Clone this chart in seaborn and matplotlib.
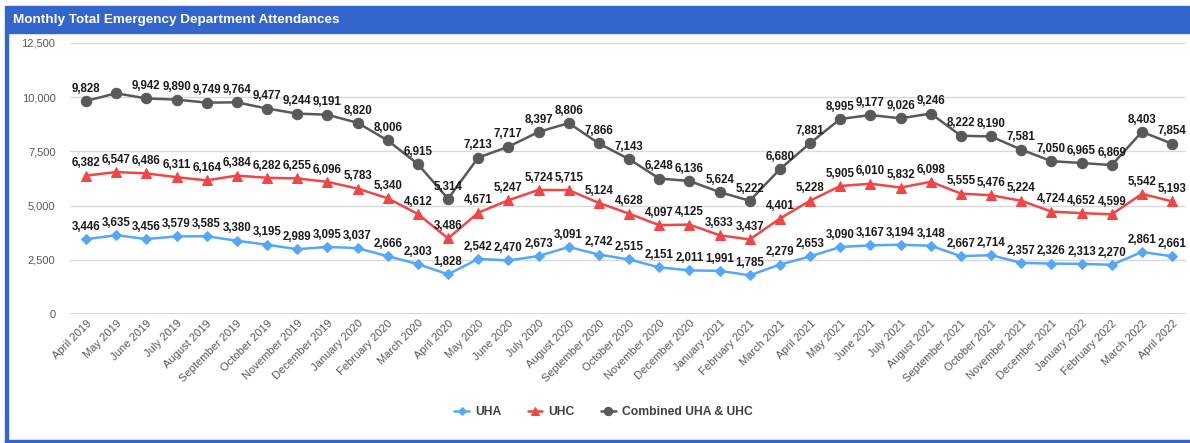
import matplotlib
matplotlib.use("Agg")
import matplotlib.pyplot as plt
import seaborn as sns
import pandas as pd
from matplotlib.patches import Rectangle

# dati
mesi = [
    "April 2019", "May 2019", "June 2019", "July 2019", "August 2019", "September 2019",
    "October 2019", "November 2019", "December 2019", "January 2020", "February 2020",
    "March 2020", "April 2020", "May 2020", "June 2020", "July 2020", "August 2020",
    "September 2020", "October 2020", "November 2020", "December 2020", "January 2021",
    "February 2021", "March 2021", "April 2021", "May 2021", "June 2021", "July 2021",
    "August 2021", "September 2021", "October 2021", "November 2021", "December 2021",
    "January 2022", "February 2022", "March 2022", "April 2022",
]
uha = [3446, 3635, 3456, 3579, 3585, 3380, 3195, 2989, 3095, 3037, 2666, 2303, 1828,
       2542, 2470, 2673, 3091, 2742, 2515, 2151, 2011, 1991, 1785, 2279, 2653, 3090,
       3167, 3194, 3148, 2667, 2714, 2357, 2326, 2313, 2270, 2861, 2661]
uhc = [6382, 6547, 6486, 6311, 6164, 6384, 6282, 6255, 6096, 5783, 5340, 4612, 3486,
       4671, 5247, 5724, 5715, 5124, 4628, 4097, 4125, 3633, 3437, 4401, 5228, 5905,
       6010, 5832, 6098, 5555, 5476, 5224, 4724, 4652, 4599, 5542, 5193]
combinato = [9828, 10182, 9942, 9890, 9749, 9764, 9477, 9244, 9191, 8820, 8006, 6915,
             5314, 7213, 7717, 8397, 8806, 7866, 7143, 6248, 6136, 5624, 5222, 6680,
             7881, 8995, 9177, 9026, 9246, 8222, 8190, 7581, 7050, 6965, 6869, 8403, 7854]
# etichette nascoste nell'originale (sovrapposte)
nascosti_comb = {"May 2019"}

sns.set_theme(style="white")
plt.rcParams["font.family"] = ["Liberation Sans", "DejaVu Sans"]

fig = plt.figure(figsize=(11.9, 4.43), dpi=100)
ax = fig.add_axes([70 / 1190, 1 - 314 / 443, 1116 / 1190, 271 / 443])

blu_cornice = "#3366cc"
# cornice blu + barra del titolo
fig.patches.append(Rectangle((5 / 1190, 1 - 33 / 443), 1185 / 1190, 27 / 443,
                             transform=fig.transFigure, color=blu_cornice, zorder=0))
fig.patches.append(Rectangle((5 / 1190, 0), 3 / 1190, 1 - 33 / 443,
                             transform=fig.transFigure, color=blu_cornice, zorder=0))
fig.patches.append(Rectangle((5 / 1190, 0), 1185 / 1190, 3 / 443,
                             transform=fig.transFigure, color=blu_cornice, zorder=0))
fig.text(13 / 1190, 1 - 19.5 / 443, "Monthly Total Emergency Department Attendances",
         color="white", fontsize=9.7, fontweight="bold", va="center", ha="left")

serie = [
    ("UHA", uha, "#55a8f8", "D", 5),
    ("UHC", uhc, "#f04646", "^", 6.5),
    ("Combined UHA & UHC", combinato, "#595959", "o", 7.5),
]

for nome, valori, colore, marker, msize in serie:
    df = pd.DataFrame({"mese": mesi, "valore": valori})
    sns.lineplot(data=df, x="mese", y="valore", ax=ax, color=colore, linewidth=1.8,
                 marker=marker, markersize=msize, markeredgecolor=colore, label=nome,
                 sort=False)
    for m, v in zip(mesi, valori):
        if nome.startswith("Combined") and m in nascosti_comb:
            continue
        ax.annotate(f"{v:,}", (m, v), xytext=(0, 4.5), textcoords="offset points",
                    ha="center", va="bottom", fontsize=8.3, fontweight="bold",
                    color="#1a1a1a")

ax.set_ylim(0, 12500)
ax.set_xlim(-0.53, len(mesi) - 0.54)
ax.set_yticks(range(0, 12501, 2500))
ax.set_yticklabels([f"{t:,}" for t in range(0, 12501, 2500)])
ax.grid(axis="y", color="#d9d9d9", linewidth=1)
ax.axhline(0, color="#c9d3ea", linewidth=1.2)
for s in ax.spines.values():
    s.set_visible(False)
ax.set_xlabel("")
ax.set_ylabel("")
ax.tick_params(axis="y", labelsize=8, labelcolor="#595959", length=0, pad=10.5)
ax.tick_params(axis="x", labelsize=8, labelcolor="#595959", length=0, pad=3)
plt.setp(ax.get_xticklabels(), rotation=45, ha="right", rotation_mode="anchor")

ax.legend(loc="center", bbox_to_anchor=(0.478, (412 - 314) / -271), ncol=3, frameon=False,
          prop={"size": 8.7, "weight": "bold"}, handlelength=1.2, columnspacing=2.2,
          handletextpad=0.5, labelcolor="#404040", markerscale=0.8)

fig.savefig("out.png", dpi=100)
